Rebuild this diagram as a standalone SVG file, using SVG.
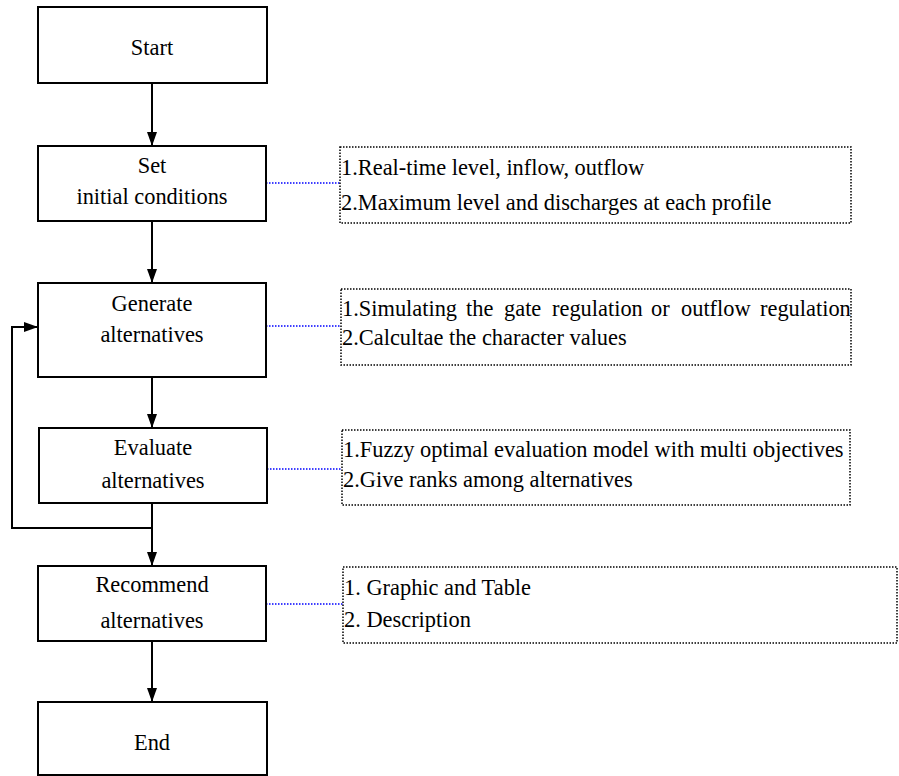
<svg xmlns="http://www.w3.org/2000/svg" width="899" height="776" viewBox="0 0 899 776">
<style>
.box{fill:#fff;stroke:#000;stroke-width:2}
.note{fill:none;stroke:#000;stroke-width:1.5;stroke-dasharray:1.5 1.5}
.flow{fill:none;stroke:#000;stroke-width:2}
.link{fill:none;stroke:#0000ff;stroke-width:1.5;stroke-dasharray:1.5 1.5}
</style>
<defs>
<marker id="ah" markerUnits="userSpaceOnUse" markerWidth="14" markerHeight="10" refX="14" refY="5" orient="auto">
<path d="M0,0 L14,5 L0,10 Z" fill="#000"/>
</marker>
</defs>
<rect width="899" height="776" fill="#fff"/>
<g id="connectors">
<line class="flow" x1="152" y1="83" x2="152" y2="146" marker-end="url(#ah)"/>
<line class="flow" x1="152" y1="221" x2="152" y2="283" marker-end="url(#ah)"/>
<line class="flow" x1="152" y1="377" x2="152" y2="428" marker-end="url(#ah)"/>
<line class="flow" x1="152" y1="503" x2="152" y2="566" marker-end="url(#ah)"/>
<line class="flow" x1="152" y1="641" x2="152" y2="702" marker-end="url(#ah)"/>
<path class="flow" d="M152,528 H12 V327 H38" marker-end="url(#ah)"/>
<line class="link" x1="266" y1="183" x2="340" y2="183"/>
<line class="link" x1="266" y1="326" x2="341" y2="326"/>
<line class="link" x1="267" y1="469" x2="342" y2="469"/>
<line class="link" x1="266" y1="604" x2="343" y2="604"/>
</g>
<g id="start">
<rect class="box" x="38" y="7" width="229" height="76"/>
<text x="152" y="55" text-anchor="middle" font-family="Liberation Serif" font-size="22.4">Start</text>
</g>
<g id="set">
<rect class="box" x="38" y="146" width="228" height="75"/>
<text x="152" y="173" text-anchor="middle" font-family="Liberation Serif" font-size="22.4">Set</text>
<text x="152" y="204" text-anchor="middle" font-family="Liberation Serif" font-size="22.4">initial conditions</text>
</g>
<g id="generate">
<rect class="box" x="38" y="283" width="228" height="94"/>
<text x="152" y="311" text-anchor="middle" font-family="Liberation Serif" font-size="22.4">Generate</text>
<text x="152" y="342" text-anchor="middle" font-family="Liberation Serif" font-size="22.4">alternatives</text>
</g>
<g id="evaluate">
<rect class="box" x="39" y="428" width="228" height="75"/>
<text x="153" y="455" text-anchor="middle" font-family="Liberation Serif" font-size="22.4">Evaluate</text>
<text x="153" y="488" text-anchor="middle" font-family="Liberation Serif" font-size="22.4">alternatives</text>
</g>
<g id="recommend">
<rect class="box" x="38" y="566" width="228" height="75"/>
<text x="152" y="592" text-anchor="middle" font-family="Liberation Serif" font-size="22.4">Recommend</text>
<text x="152" y="628" text-anchor="middle" font-family="Liberation Serif" font-size="22.4">alternatives</text>
</g>
<g id="end">
<rect class="box" x="38" y="702" width="229" height="73"/>
<text x="152" y="750" text-anchor="middle" font-family="Liberation Serif" font-size="22.4">End</text>
</g>
<g id="note-set">
<rect class="note" x="340" y="147" width="511" height="76"/>
<text x="341" y="175" font-family="Liberation Serif" font-size="22.4">1.Real-time level, inflow, outflow</text>
<text x="341" y="210" font-family="Liberation Serif" font-size="22.4">2.Maximum level and discharges at each profile</text>
</g>
<g id="note-generate">
<rect class="note" x="341" y="289" width="510" height="76"/>
<text y="316" font-family="Liberation Serif" font-size="22.4"><tspan x="342">1.Simulating</tspan><tspan x="466">the</tspan><tspan x="504">gate</tspan><tspan x="552">regulation</tspan><tspan x="651">or</tspan><tspan x="681">outflow</tspan><tspan x="760">regulation</tspan></text>
<text x="342" y="345" font-family="Liberation Serif" font-size="22.4">2.Calcultae the character values</text>
</g>
<g id="note-evaluate">
<rect class="note" x="342" y="430" width="508" height="75"/>
<text x="343" y="457" font-family="Liberation Serif" font-size="22.4">1.Fuzzy optimal evaluation model with multi objectives</text>
<text x="343" y="487" font-family="Liberation Serif" font-size="22.4">2.Give ranks among alternatives</text>
</g>
<g id="note-recommend">
<rect class="note" x="343" y="567" width="554" height="76"/>
<text x="344" y="595" font-family="Liberation Serif" font-size="22.4">1. Graphic and Table</text>
<text x="344" y="627" font-family="Liberation Serif" font-size="22.4">2. Description</text>
</g>
</svg>
